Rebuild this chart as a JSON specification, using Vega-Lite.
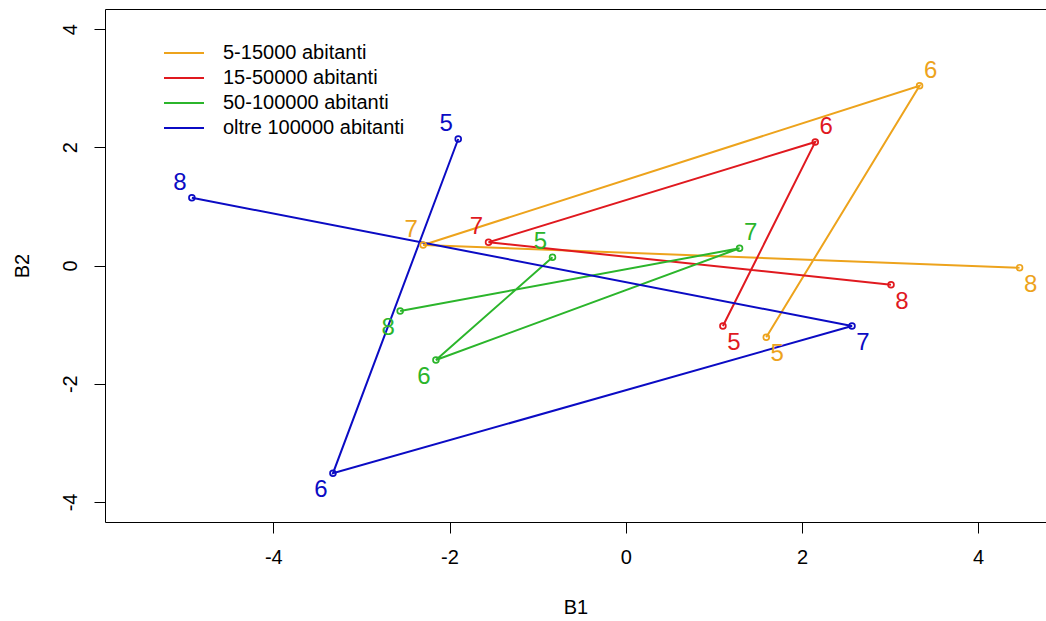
{
  "$schema": "https://vega.github.io/schema/vega-lite/v6.json",
  "width": 941,
  "height": 513,
  "autosize": {"type": "none"},
  "padding": {"left": 105, "top": 9, "right": 0, "bottom": 99},
  "background": "white",
  "config": {
    "view": {"stroke": null},
    "font": "Liberation Sans",
    "axis": {
      "grid": false,
      "domainColor": "#000000",
      "domainWidth": 1,
      "tickColor": "#000000",
      "tickWidth": 1,
      "tickSize": 11,
      "labelColor": "#000000",
      "labelFont": "Liberation Sans",
      "labelFontSize": 20,
      "titleColor": "#000000",
      "titleFont": "Liberation Sans",
      "titleFontSize": 20,
      "titleFontWeight": "normal"
    },
    "legend": {
      "orient": "none",
      "legendX": 69,
      "legendY": 34,
      "padding": 0,
      "symbolType": "M-4,0L4,0",
      "symbolSize": 100,
      "symbolStrokeWidth": 2,
      "labelFont": "Liberation Sans",
      "labelFontSize": 20,
      "labelColor": "#000000",
      "labelOffset": 29,
      "labelLimit": 0,
      "rowPadding": 5
    }
  },
  "data": {
    "values": [
      {"classe": "5-15000 abitanti", "t": 5, "B1": 1.595, "B2": -1.215, "side": "lr"},
      {"classe": "5-15000 abitanti", "t": 6, "B1": 3.335, "B2": 3.042, "side": "ur"},
      {"classe": "5-15000 abitanti", "t": 7, "B1": -2.299, "B2": 0.347, "side": "ul"},
      {"classe": "5-15000 abitanti", "t": 8, "B1": 4.47, "B2": -0.037, "side": "lr"},
      {"classe": "15-50000 abitanti", "t": 5, "B1": 1.103, "B2": -1.024, "side": "lr"},
      {"classe": "15-50000 abitanti", "t": 6, "B1": 2.151, "B2": 2.09, "side": "ur"},
      {"classe": "15-50000 abitanti", "t": 7, "B1": -1.557, "B2": 0.393, "side": "ul"},
      {"classe": "15-50000 abitanti", "t": 8, "B1": 3.011, "B2": -0.325, "side": "lr"},
      {"classe": "50-100000 abitanti", "t": 5, "B1": -0.831, "B2": 0.139, "side": "ul"},
      {"classe": "50-100000 abitanti", "t": 6, "B1": -2.154, "B2": -1.599, "side": "ll"},
      {"classe": "50-100000 abitanti", "t": 7, "B1": 1.292, "B2": 0.291, "side": "ur"},
      {"classe": "50-100000 abitanti", "t": 8, "B1": -2.56, "B2": -0.77, "side": "ll"},
      {"classe": "oltre 100000 abitanti", "t": 5, "B1": -1.901, "B2": 2.14, "side": "ul"},
      {"classe": "oltre 100000 abitanti", "t": 6, "B1": -3.323, "B2": -3.516, "side": "ll"},
      {"classe": "oltre 100000 abitanti", "t": 7, "B1": 2.568, "B2": -1.024, "side": "lr"},
      {"classe": "oltre 100000 abitanti", "t": 8, "B1": -4.924, "B2": 1.147, "side": "ul"}
    ]
  },
  "encoding": {
    "y": {
      "field": "B2",
      "type": "quantitative",
      "scale": {"domain": [-4.34, 4.34], "nice": false, "zero": false},
      "axis": {
        "values": [-4, -2, 0, 2, 4],
        "labelExpr": "datum.value < 0 ? '-' + abs(datum.value) : '' + datum.value",
        "labelAngle": 270,
        "labelAlign": "center",
        "labelBaseline": "alphabetic",
        "labelPadding": 18,
        "titlePadding": 28,
        "title": "B2"
      }
    },
    "color": {
      "field": "classe",
      "type": "nominal",
      "scale": {
        "domain": ["5-15000 abitanti", "15-50000 abitanti", "50-100000 abitanti", "oltre 100000 abitanti"],
        "range": ["#EDA31C", "#E0191F", "#2BB52B", "#0B0BC4"]
      },
      "legend": {"title": null}
    }
  },
  "resolve": {"axis": {"x": "independent"}},
  "layer": [
    {
      "mark": {"type": "line", "strokeWidth": 2},
      "encoding": {
        "x": {
          "field": "B1",
          "type": "quantitative",
          "scale": {"domain": [-5.91, 4.77], "nice": false, "zero": false},
          "axis": {
            "orient": "bottom",
            "values": [-4, -2, 0, 2, 4],
            "labelExpr": "datum.value < 0 ? '-' + abs(datum.value) : '' + datum.value",
            "labelPadding": 14,
            "titlePadding": 30,
            "title": "B1"
          }
        },
        "order": {"field": "t", "type": "quantitative"}
      }
    },
    {
      "mark": {"type": "point", "filled": false, "size": 34, "strokeWidth": 1.7, "opacity": 1},
      "encoding": {
        "x": {"field": "B1", "type": "quantitative", "axis": null}
      }
    },
    {
      "mark": {
        "type": "text",
        "fontSize": 24,
        "font": "Liberation Sans",
        "align": "center",
        "baseline": "middle",
        "dx": {"expr": "indexof(['ul','ll'], datum.side) >= 0 ? -12 : 11"},
        "dy": {"expr": "indexof(['ul','ur'], datum.side) >= 0 ? -15 : 17"}
      },
      "encoding": {
        "x": {
          "field": "B1",
          "type": "quantitative",
          "axis": {"orient": "top", "ticks": false, "labels": false, "title": null, "domain": true}
        },
        "text": {"field": "t", "type": "nominal"}
      }
    }
  ]
}
